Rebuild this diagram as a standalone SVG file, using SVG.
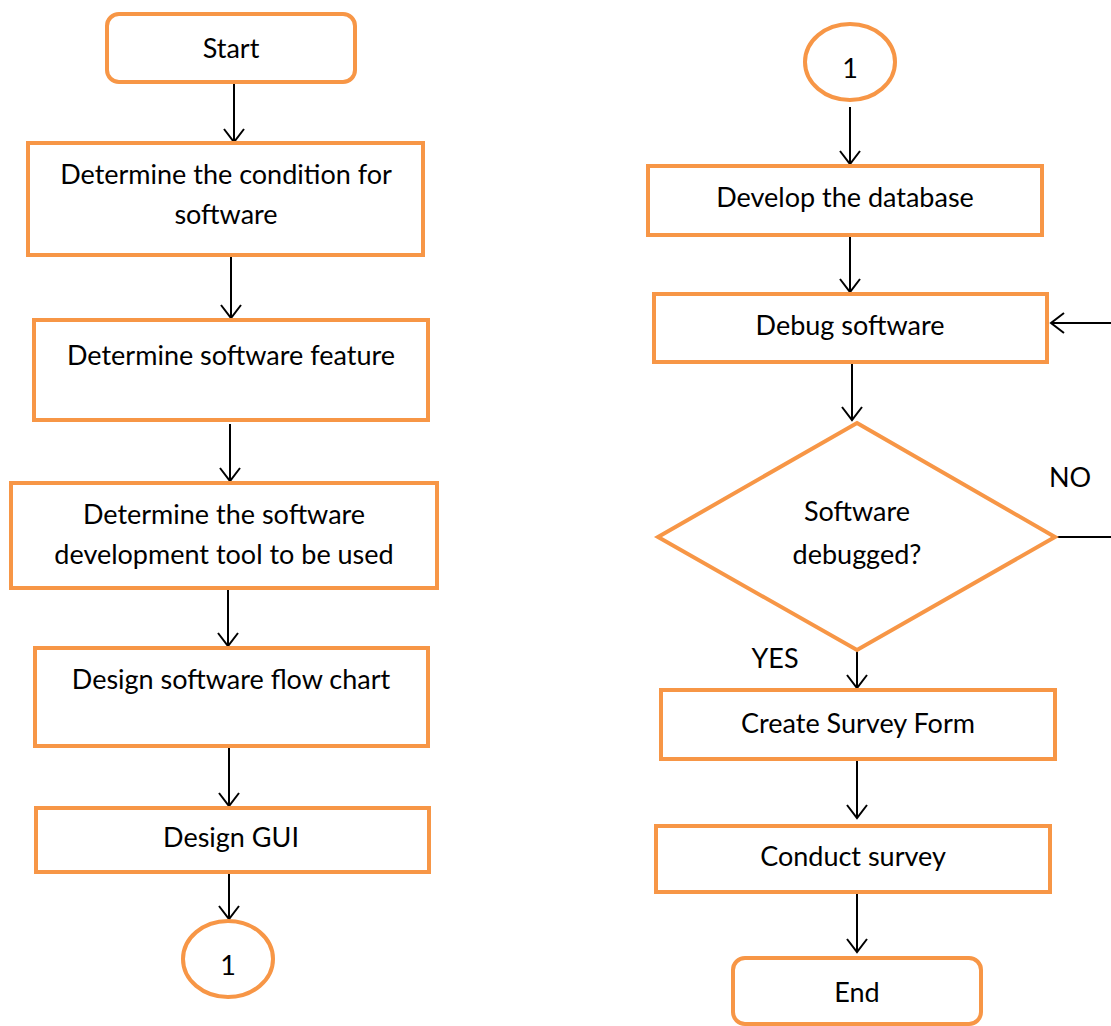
<svg xmlns="http://www.w3.org/2000/svg" width="1111" height="1026" viewBox="0 0 1111 1026">
<style>
.n{fill:#fff;stroke:#F79646;stroke-width:4}
.t{font-family:Lato,"Open Sans","Liberation Sans",sans-serif;font-size:27px;fill:#000;text-anchor:middle}
.c{fill:none;stroke:#000;stroke-width:2}
</style>
<defs>
<marker id="a" viewBox="0 0 20 24" refX="18" refY="12" markerWidth="20" markerHeight="24" markerUnits="userSpaceOnUse" orient="auto">
<path d="M5,2 L18,12 L5,22" fill="none" stroke="#000" stroke-width="2"/>
</marker>
</defs>
<g id="connectors">
<line class="c" x1="234" y1="84" x2="234" y2="142" marker-end="url(#a)"/>
<line class="c" x1="231" y1="257" x2="231" y2="318" marker-end="url(#a)"/>
<line class="c" x1="230" y1="424" x2="230" y2="481" marker-end="url(#a)"/>
<line class="c" x1="228" y1="590" x2="228" y2="646" marker-end="url(#a)"/>
<line class="c" x1="229" y1="748" x2="229" y2="806" marker-end="url(#a)"/>
<line class="c" x1="229" y1="874" x2="229" y2="919" marker-end="url(#a)"/>
<line class="c" x1="850" y1="107" x2="850" y2="164" marker-end="url(#a)"/>
<line class="c" x1="850" y1="237" x2="850" y2="292" marker-end="url(#a)"/>
<line class="c" x1="852" y1="364" x2="852" y2="420" marker-end="url(#a)"/>
<line class="c" x1="857" y1="651" x2="857" y2="688" marker-end="url(#a)"/>
<line class="c" x1="857" y1="761" x2="857" y2="818" marker-end="url(#a)"/>
<line class="c" x1="857" y1="894" x2="857" y2="952" marker-end="url(#a)"/>
<polyline class="c" points="1055,537 1111,537"/>
<line class="c" x1="1111" y1="323" x2="1051" y2="323" marker-end="url(#a)"/>
<text class="t" x="1070" y="487">NO</text>
<text class="t" x="775" y="668">YES</text>
</g>
<g id="start"><rect class="n" x="107" y="14" width="248" height="68" rx="12"/><text class="t" x="231" y="58">Start</text></g>
<g id="condition"><rect class="n" x="28" y="143" width="395" height="112"/><text class="t" x="226" y="184">Determine the condition for</text><text class="t" x="226" y="224">software</text></g>
<g id="feature"><rect class="n" x="34" y="320" width="394" height="100"/><text class="t" x="231" y="365">Determine software feature</text></g>
<g id="tool"><rect class="n" x="11" y="483" width="426" height="105"/><text class="t" x="224" y="524">Determine the software</text><text class="t" x="224" y="564">development tool to be used</text></g>
<g id="flowchart"><rect class="n" x="35" y="648" width="393" height="98"/><text class="t" x="231" y="689">Design software flow chart</text></g>
<g id="gui"><rect class="n" x="36" y="808" width="393" height="64"/><text class="t" x="231" y="847">Design GUI</text></g>
<g id="conn1a"><ellipse class="n" cx="228" cy="959" rx="45" ry="38"/><text class="t" x="228" y="975">1</text></g>
<g id="conn1b"><ellipse class="n" cx="850" cy="62" rx="45" ry="38"/><text class="t" x="850" y="78">1</text></g>
<g id="database"><rect class="n" x="648" y="166" width="394" height="69"/><text class="t" x="845" y="207">Develop the database</text></g>
<g id="debug"><rect class="n" x="654" y="294" width="393" height="68"/><text class="t" x="850" y="335">Debug software</text></g>
<g id="decision"><polygon class="n" points="857,423 1055,537 857,650 658,537"/><text class="t" x="857" y="521">Software</text><text class="t" x="857" y="564">debugged?</text></g>
<g id="survey"><rect class="n" x="661" y="690" width="394" height="69"/><text class="t" x="858" y="733">Create Survey Form</text></g>
<g id="conduct"><rect class="n" x="656" y="826" width="394" height="66"/><text class="t" x="853" y="866">Conduct survey</text></g>
<g id="end"><rect class="n" x="733" y="958" width="248" height="66" rx="12"/><text class="t" x="857" y="1002">End</text></g>
</svg>
